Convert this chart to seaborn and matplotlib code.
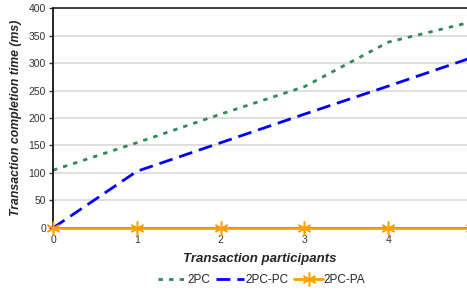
import numpy as np
import pandas as pd
import seaborn as sns
from matplotlib import pyplot as plt

# values
participants = [0, 1, 2, 3, 4, 5]
time_2pc = [105, 155, 207, 257, 338, 375]
time_2pc_pc = [0, 103, 155, 207, 258, 310]
time_2pc_pa = [0, 0, 0, 0, 0, 0]
y_ticks = [0, 50, 100, 150, 200, 250, 300, 350, 400]
x_ticks = [0, 1, 2, 3, 4]

df = pd.DataFrame({
    "participants": participants,
    "2PC": time_2pc,
    "2PC-PC": time_2pc_pc,
    "2PC-PA": time_2pc_pa,
})

sns.set_style("white")
plt.rcParams['font.family'] = ['Liberation Sans', 'DejaVu Sans']

fig = plt.figure(figsize=(4.67, 2.93), dpi=100)
ax = fig.add_axes([0.1135, 0.222, 0.8865, 0.7505])

ax.yaxis.grid(True, color='#d9d9d9', linewidth=1.2)
ax.set_axisbelow(True)

sns.lineplot(data=df, x="participants", y="2PC", ax=ax, color='#2e8b57',
             linewidth=2, dashes=False, label="2PC")
sns.lineplot(data=df, x="participants", y="2PC-PC", ax=ax, color='#0000ff',
             linewidth=2, dashes=False, label="2PC-PC")
sns.lineplot(data=df, x="participants", y="2PC-PA", ax=ax, color='#ffa000',
             linewidth=2, marker=(6, 2, 0), markersize=10, markeredgewidth=1.1,
             markeredgecolor='#ffa000', label="2PC-PA", zorder=5)

lines = ax.get_lines()
lines[0].set_dashes((1.6, 2.2))
lines[1].set_dashes((5, 2.5))
for ln in lines:
    ln.set_clip_on(False)

ax.set_xlim(0, 4.94)
ax.set_ylim(0, 400)
ax.set_xticks(x_ticks)
ax.set_yticks(y_ticks)
ax.tick_params(axis='both', labelsize=7.5, colors='#333333', length=3,
               width=1, direction='out', pad=2)
ax.tick_params(left=True, bottom=True)

for side in ['left', 'bottom', 'top']:
    ax.spines[side].set_color('black')
    ax.spines[side].set_linewidth(1.2)
ax.spines['right'].set_visible(False)
ax.spines['top'].set_color('#222222')

ax.set_xlabel("Transaction participants", fontsize=9.5, fontweight='bold',
              fontstyle='italic', labelpad=6)
ax.set_ylabel("Transaction completion time (ms)", fontsize=8.8,
              fontweight='bold', fontstyle='italic', labelpad=5)

handles, labels = ax.get_legend_handles_labels()
ax.get_legend().remove()
fig.legend(handles, labels, loc='center', bbox_to_anchor=(0.56, 0.043), ncol=3,
           frameon=False, fontsize=8.5, handlelength=2.4, handletextpad=0.1,
           columnspacing=0.5)

fig.savefig("out.png", dpi=100)
